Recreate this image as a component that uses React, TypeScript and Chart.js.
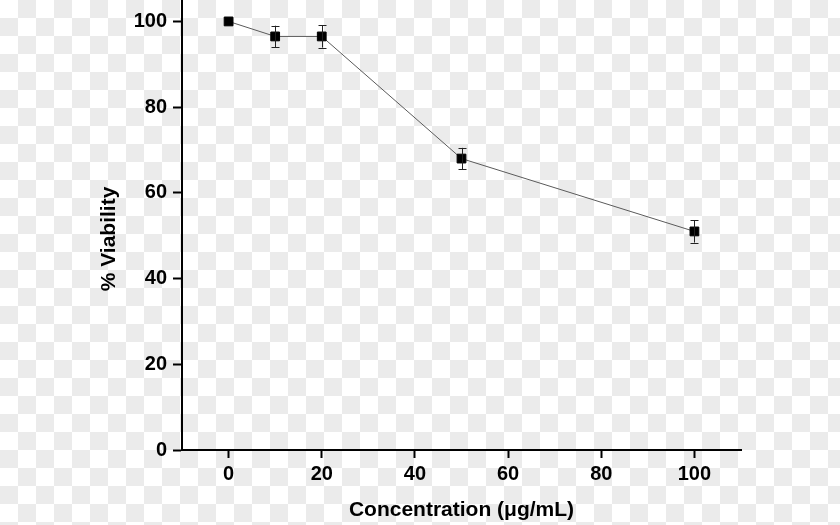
import React, { useEffect, useRef } from "react";
import { Chart, registerables } from "chart.js";

Chart.register(...registerables);

// ---- data ----
const concentrations = [0, 10, 20, 50, 100];
const viability = [100, 96.5, 96.5, 68, 51];
const viabilityErr = [0, 2.5, 2.6, 2.5, 2.6];
const xTickValues = [0, 20, 40, 60, 80, 100];
const yTickValues = [0, 20, 40, 60, 80, 100];
const xTitle = "Concentration (μg/mL)";
const yTitle = "% Viability";

const FONT = '"Liberation Sans", Arial, sans-serif';

const errorBarPlugin = {
  id: "errorBars",
  afterDatasetsDraw(chart: any) {
    const { ctx, scales } = chart;
    const xs = scales.x;
    const ys = scales.y;
    ctx.save();
    ctx.strokeStyle = "#222";
    ctx.lineWidth = 1;
    concentrations.forEach((c, i) => {
      const e = viabilityErr[i];
      if (!e) return;
      const x = Math.round(xs.getPixelForValue(c)) + 0.5;
      const yTop = ys.getPixelForValue(viability[i] + e);
      const yBot = ys.getPixelForValue(viability[i] - e);
      ctx.beginPath();
      ctx.moveTo(x, yTop);
      ctx.lineTo(x, yBot);
      ctx.moveTo(x - 4, Math.round(yTop) + 0.5);
      ctx.lineTo(x + 4, Math.round(yTop) + 0.5);
      ctx.moveTo(x - 4, Math.round(yBot) + 0.5);
      ctx.lineTo(x + 4, Math.round(yBot) + 0.5);
      ctx.stroke();
    });
    ctx.restore();
  },
};

const yTitlePlugin = {
  id: "yTitleCustom",
  afterDraw(chart: any) {
    const { ctx, chartArea } = chart;
    ctx.save();
    ctx.translate(109, chartArea.top + chartArea.height / 2 + 14);
    ctx.rotate(-Math.PI / 2);
    ctx.font = `bold 21px ${FONT}`;
    ctx.fillStyle = "#000";
    ctx.textAlign = "center";
    ctx.textBaseline = "middle";
    ctx.fillText(yTitle, 0, 0);
    ctx.restore();
  },
};

export default function App() {
  const canvasRef = useRef<HTMLCanvasElement | null>(null);

  useEffect(() => {
    if (!canvasRef.current) return;
    const chart = new Chart(canvasRef.current, {
      type: "line",
      data: {
        datasets: [
          {
            label: yTitle,
            data: concentrations.map((c, i) => ({ x: c, y: viability[i] })),
            borderColor: "#5a5a5a",
            borderWidth: 1,
            backgroundColor: "#000",
            pointStyle: "rect",
            pointRadius: 6.2,
            pointBorderWidth: 1,
            pointBorderColor: "#000",
            pointBackgroundColor: "#000",
            tension: 0,
            clip: false,
          },
        ],
      },
      options: {
        animation: false,
        responsive: false,
        devicePixelRatio: 1,
        layout: { autoPadding: false, padding: { left: 0, top: 0, right: 99, bottom: 0 } },
        plugins: {
          legend: { display: false },
          tooltip: { enabled: false },
          title: { display: false },
        },
        scales: {
          x: {
            type: "linear",
            min: -10,
            max: 110,
            afterBuildTicks: (s: any) => {
              s.ticks = xTickValues.map((v) => ({ value: v }));
            },
            afterFit: (s: any) => {
              s.height = 75;
              s.paddingLeft = 0;
              s.paddingRight = 0;
            },
            grid: {
              drawOnChartArea: false,
              drawTicks: true,
              tickLength: 8,
              tickWidth: 2,
              tickColor: "#000",
            },
            border: { display: true, color: "#000", width: 2 },
            ticks: {
              color: "#000",
              font: { family: FONT, size: 20, weight: "bold" },
              padding: 4,
              maxRotation: 0,
              autoSkip: false,
            },
            title: {
              display: true,
              text: xTitle,
              color: "#000",
              font: { family: FONT, size: 21, weight: "bold" },
              padding: { top: 0, bottom: 2 },
            },
          },
          y: {
            type: "linear",
            min: 0,
            max: 105,
            afterBuildTicks: (s: any) => {
              s.ticks = yTickValues.map((v) => ({ value: v }));
            },
            afterFit: (s: any) => {
              s.width = 182;
              s.paddingTop = 0;
              s.paddingBottom = 0;
            },
            grid: {
              drawOnChartArea: false,
              drawTicks: true,
              tickLength: 9,
              tickWidth: 2,
              tickColor: "#000",
            },
            border: { display: true, color: "#000", width: 2 },
            ticks: {
              color: "#000",
              font: { family: FONT, size: 20, weight: "bold" },
              padding: 6,
              autoSkip: false,
            },
            title: { display: false },
          },
        },
      },
      plugins: [errorBarPlugin, yTitlePlugin],
    } as any);
    return () => chart.destroy();
  }, []);

  return (
    <div
      style={{
        position: "fixed",
        left: 0,
        top: 0,
        width: 840,
        height: 525,
        background:
          "repeating-conic-gradient(#ebebeb 0% 25%, #ffffff 0% 50%) 0 0 / 36px 36px",
      }}
    >
      <canvas ref={canvasRef} width={840} height={525} style={{ display: "block" }} />
    </div>
  );
}
